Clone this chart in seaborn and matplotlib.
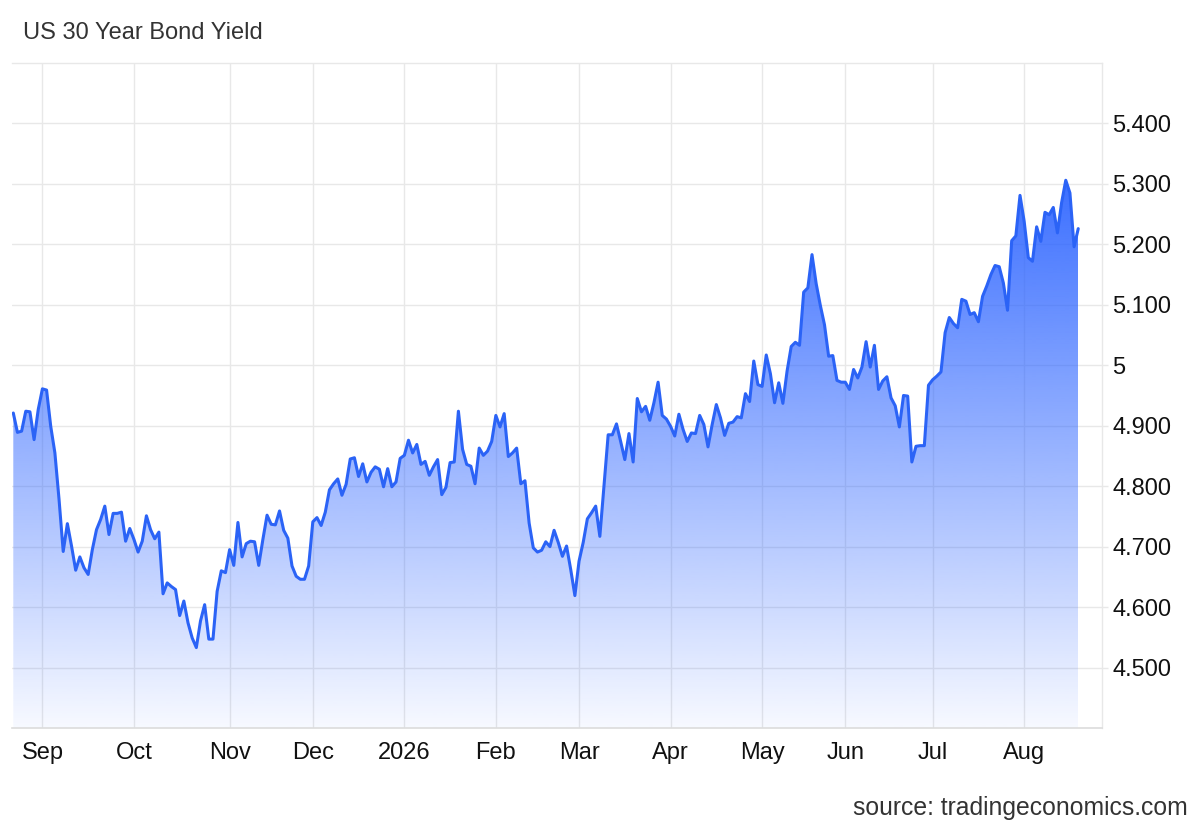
import numpy as np
import pandas as pd
import matplotlib
matplotlib.use('Agg')
import matplotlib.pyplot as plt
import seaborn as sns

# Daily closes, first session 2025-08-21
start_date = '2025-08-21'
holidays = ['2025-12-25', '2026-05-25', '2026-06-19', '2026-07-03']

yields = [
    4.921, 4.889, 4.891, 4.924, 4.923, 4.877, 4.927, 4.961, 4.959, 4.899,
    4.855, 4.778, 4.692, 4.738, 4.701, 4.661, 4.683, 4.665, 4.654, 4.695,
    4.728, 4.745, 4.767, 4.720, 4.755, 4.755, 4.757, 4.709, 4.730, 4.712,
    4.691, 4.709, 4.751, 4.728, 4.713, 4.724, 4.622, 4.640, 4.634, 4.629,
    4.586, 4.610, 4.574, 4.549, 4.533, 4.577, 4.604, 4.547, 4.547, 4.626,
    4.660, 4.657, 4.695, 4.669, 4.740, 4.683, 4.705, 4.709, 4.708, 4.669,
    4.712, 4.752, 4.737, 4.736, 4.759, 4.727, 4.714, 4.668, 4.651, 4.646,
    4.646, 4.668, 4.741, 4.748, 4.735, 4.757, 4.794, 4.804, 4.812, 4.785,
    4.803, 4.845, 4.847, 4.816, 4.837, 4.807, 4.823, 4.832, 4.828, 4.799,
    4.829, 4.799, 4.807, 4.846, 4.851, 4.876, 4.855, 4.869, 4.836, 4.841,
    4.818, 4.832, 4.844, 4.786, 4.798, 4.839, 4.840, 4.924, 4.861, 4.836,
    4.833, 4.804, 4.863, 4.851, 4.858, 4.874, 4.917, 4.898, 4.920, 4.849,
    4.855, 4.863, 4.804, 4.809, 4.739, 4.698, 4.691, 4.694, 4.708, 4.700,
    4.727, 4.707, 4.684, 4.701, 4.662, 4.619, 4.676, 4.707, 4.746, 4.756,
    4.767, 4.717, 4.801, 4.885, 4.885, 4.903, 4.874, 4.844, 4.887, 4.840,
    4.945, 4.923, 4.932, 4.909, 4.938, 4.972, 4.917, 4.911, 4.899, 4.883,
    4.919, 4.894, 4.874, 4.888, 4.887, 4.917, 4.902, 4.865, 4.902, 4.935,
    4.913, 4.884, 4.904, 4.906, 4.915, 4.913, 4.953, 4.940, 5.007, 4.968,
    4.965, 5.017, 4.986, 4.938, 4.971, 4.937, 4.990, 5.031, 5.038, 5.033,
    5.121, 5.128, 5.183, 5.135, 5.099, 5.067, 5.015, 5.016, 4.975, 4.972,
    4.972, 4.960, 4.993, 4.979, 4.997, 5.039, 4.997, 5.033, 4.960, 4.974,
    4.981, 4.946, 4.933, 4.898, 4.950, 4.949, 4.840, 4.866, 4.867, 4.867,
    4.967, 4.976, 4.982, 4.989, 5.054, 5.079, 5.069, 5.062, 5.109, 5.106,
    5.084, 5.087, 5.072, 5.114, 5.131, 5.150, 5.165, 5.163, 5.136, 5.091,
    5.206, 5.214, 5.281, 5.238, 5.178, 5.172, 5.229, 5.205, 5.253, 5.249,
    5.261, 5.219, 5.269, 5.306, 5.285, 5.196, 5.226,
]

y_ticks = [4.5, 4.6, 4.7, 4.8, 4.9, 5.0, 5.1, 5.2, 5.3, 5.4]
y_tick_labels = ['4.500', '4.600', '4.700', '4.800', '4.900', '5',
                 '5.100', '5.200', '5.300', '5.400']

dates = pd.bdate_range(start=start_date, periods=len(yields), freq='C', holidays=holidays)
df = pd.DataFrame({'date': dates, 'yield': yields})
df['idx'] = np.arange(len(df))

# first session of each month gets a tick (Jan shows the year)
month_starts = df.groupby(df['date'].dt.to_period('M'))['idx'].min()
month_starts = month_starts[month_starts > 0]
month_labels = [str(p.year) if p.month == 1 else p.strftime('%b') for p in month_starts.index]

sns.set_theme(style='white')
plt.rcParams['font.family'] = ['Liberation Sans', 'DejaVu Sans']

line_color = '#2b63f6'
grid_color = '#e8e8e8'
ymin, ymax = 4.4, 5.5

fig = plt.figure(figsize=(12, 8.32), dpi=100)
ax = fig.add_axes([0.01, 0.125, 0.9083, 0.7993])

# gradient fill under the line
poly = ax.fill_between(df['idx'], df['yield'], ymin, color='none', lw=0)
grad = np.zeros((256, 1, 4))
grad[..., :3] = matplotlib.colors.to_rgb('#2f66ff')
grad[:, 0, 3] = np.linspace(0.04, 0.94, 256)
im = ax.imshow(grad, extent=[0, len(yields) - 1, ymin, max(yields)],
               origin='lower', aspect='auto', zorder=1, interpolation='bilinear')
im.set_clip_path(poly.get_paths()[0], transform=ax.transData)

sns.lineplot(data=df, x='idx', y='yield', color=line_color, linewidth=2.2, ax=ax, zorder=3)

ax.set_xlim(-0.31, 261.7)
ax.set_ylim(ymin, ymax)
ax.set_xlabel('')
ax.set_ylabel('')

ax.set_yticks(y_ticks, y_tick_labels)
ax.yaxis.tick_right()
ax.set_xticks(month_starts.values, month_labels)

ax.grid(True, color=grid_color, linewidth=1)
ax.set_axisbelow(True)
ax.tick_params(axis='y', length=4.3, width=1, color=grid_color, pad=3,
               labelsize=17, labelcolor='#111111')
ax.tick_params(axis='x', length=0, pad=10, labelsize=17, labelcolor='#111111')

ax.spines['left'].set_visible(False)
for side in ['top', 'right']:
    ax.spines[side].set_color(grid_color)
    ax.spines[side].set_linewidth(1)
ax.spines['bottom'].set_color('#dcdcdc')
ax.spines['bottom'].set_linewidth(1.2)

fig.text(23 / 1200, 1 - 33 / 832, 'US 30 Year Bond Yield', ha='left', va='center',
         fontsize=17, color='#333333')
fig.text(1188 / 1200, 1 - 808 / 832, 'source: tradingeconomics.com', ha='right',
         va='center', fontsize=17.8, color='#333333')

fig.savefig('out.png', dpi=100)
